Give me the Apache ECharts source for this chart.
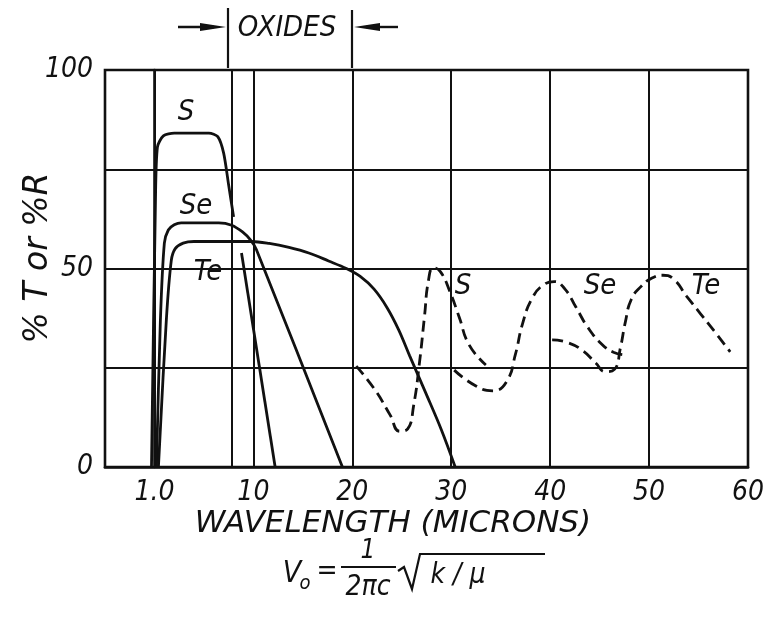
<!DOCTYPE html>
<html><head><meta charset="utf-8">
<script src="https://cdn.jsdelivr.net/npm/echarts@6/dist/echarts.min.js"></script>
<style>html,body{margin:0;padding:0;background:#fff}#c{width:772px;height:620px}</style>
</head><body><div id="c"></div>
<script>
// x positions: 0 on the axis is labelled "1.0"
const xTickValues = [0, 10, 20, 30, 40, 50, 60];
const xTickLabels = ['1.0', '10', '20', '30', '40', '50', '60'];
const xGridLines = [0, 7.8, 10, 20, 30, 40, 50];
const yTickLabels = {0: '0', 50: '50', 100: '100'};

const sSolid = [[-0.3,0],[0.1,67],[0.3,80.6],[0.9,83.4],[2.0,84.1],[5.5,84.1],[6.4,83.2],[7.0,79],[7.5,71],[8.0,63]];
const sSolidTail = [[8.8,53.9],[12.2,0]];
const seSolid = [[0.2,0],[0.6,37],[1.0,56.4],[1.4,59.7],[2.0,61],[2.7,61.5],[6.5,61.5],[7.8,60.9],[8.9,59.2],[9.7,57.2],[10.3,54.8],[19,0]];
const teSolid = [[0.4,0],[1.2,37],[1.7,52],[2.1,55],[2.9,56.4],[4.0,56.8],[9.8,56.8],[11.6,56.3],[13.6,55.3],[15.6,53.9],[17.6,51.9],[19.4,50],[20.8,48],[22.2,44.8],[23.5,40.2],[24.7,34.5],[25.8,28],[27.4,18.8],[29.0,9.4],[30.4,0]];
const sDashed = [[20.4,25.4],[22.3,19.4],[23.8,13.2],[24.8,9.0],[25.6,9.6],[26.2,15.5],[26.8,26.5],[27.3,38],[27.7,47],[28.2,50.2],[28.9,49.2],[29.8,44.6],[30.8,37.8],[31.8,30.8],[33.5,25.7]];
const seDashed = [[30.3,24.4],[32.5,20.4],[34.2,19.2],[35.6,21.5],[36.5,28.5],[37.2,36],[38.2,42.6],[39.4,46],[40.4,46.7],[41.5,44.8],[42.6,40.3],[43.8,35.2],[45.2,31.0],[46.4,28.9],[47.6,28.2]];
const teDashed = [[40.2,32.0],[41.7,31.4],[43.3,29.3],[44.6,26.2],[45.6,24.0],[46.5,24.6],[47.1,30],[47.6,36.5],[48.2,42.2],[49.2,45.5],[50.3,47.6],[51.4,48.3],[52.4,47.5],[53.8,43],[55.2,38.6],[56.6,34.2],[58.2,29.0]];

const FONT = '"DejaVu Sans Condensed", "Liberation Sans Narrow", "DejaVu Sans", sans-serif';
const WIDE = '"DejaVu Sans", "Liberation Sans", sans-serif';
const INK = '#111';

const chart = echarts.init(document.getElementById('c'), null, {renderer: 'canvas'});

function solid(name, data, extra) {
  return Object.assign({
    name, type: 'line', data, showSymbol: false, symbol: 'none', smooth: 0.3,
    lineStyle: {color: INK, width: 2.8}, z: 5, silent: true, animation: false
  }, extra || {});
}
function dashed(name, data) {
  return {
    name, type: 'line', data, showSymbol: false, symbol: 'none', smooth: 0.5,
    lineStyle: {color: INK, width: 2.8, type: [11, 6]}, z: 5, silent: true, animation: false
  };
}

const series = [
  {
    type: 'line', data: [], silent: true, animation: false,
    markLine: {
      silent: true, symbol: 'none', animation: false,
      lineStyle: {color: INK, width: 2, type: 'solid'}, label: {show: false},
      data: xGridLines.map(v => ({xAxis: v}))
    }
  },
  solid('S', sSolid, {smooth: 0.25}),
  solid('S tail', sSolidTail, {smooth: false}),
  solid('Se', seSolid, {smooth: 0.25}),
  solid('Te', teSolid, {smooth: 0.35}),
  dashed('S dashed', sDashed),
  dashed('Se dashed', seDashed),
  dashed('Te dashed', teDashed)
];

function txt(x, y, s, size, extra, fam) {
  return Object.assign({type: 'text', x, y, style: {text: s, fill: INK, font: 'italic ' + (size || 28) + 'px ' + (fam || FONT), align: 'center', verticalAlign: 'middle'}, silent: true}, extra || {});
}
function ln(x1, y1, x2, y2, w) {
  return {type: 'line', shape: {x1, y1, x2, y2}, style: {stroke: INK, lineWidth: w || 2.4}, silent: true};
}

const graphic = [
  // oxides bracket
  ln(228, 8, 228, 68, 2.2), ln(352, 10, 352, 68, 2.2),
  ln(178, 27, 214, 27, 2.4), ln(366, 27, 398, 27, 2.4),
  {type: 'polygon', shape: {points: [[200, 23], [226, 27], [200, 31]]}, style: {fill: INK}, silent: true},
  {type: 'polygon', shape: {points: [[380, 23], [354, 27], [380, 31]]}, style: {fill: INK}, silent: true},
  txt(287, 28, 'OXIDES', 29),
  // curve labels
  txt(186, 112, 'S', 29), txt(196, 206, 'Se', 29), txt(208, 272, 'Te', 29),
  txt(463, 286, 'S', 29), txt(600, 286, 'Se', 29), txt(706, 286, 'Te', 29),
  // axis titles
  txt(38, 258, '% T or %R', 33, {rotation: Math.PI / 2}, WIDE),
  txt(393, 524, 'WAVELENGTH (MICRONS)', 31, null, WIDE),
  // formula
  txt(292, 574, 'V', 30), txt(305, 584, 'o', 20),
  txt(327, 572, '=', 28),
  txt(368, 551, '1', 26), ln(341, 567, 396, 567, 2.2), txt(368, 588, '2πc', 28),
  {type: 'polyline', shape: {points: [[398, 571], [404, 567], [412, 589], [420, 554], [545, 554]]}, style: {stroke: INK, lineWidth: 2.2, fill: null}, silent: true},
  txt(458, 576, 'k / μ', 28)
];

chart.setOption({
  animation: false,
  backgroundColor: '#fff',
  grid: {left: 105, right: 24, top: 70, bottom: 153, show: true, borderColor: INK, borderWidth: 2.6, backgroundColor: 'transparent'},
  xAxis: {
    type: 'value', min: -5, max: 60, interval: 5,
    axisLine: {show: true, lineStyle: {color: INK, width: 2.6}},
    axisTick: {show: false}, splitLine: {show: false},
    axisLabel: {
      color: INK, fontFamily: FONT, fontStyle: 'italic', fontSize: 28, margin: 12,
      showMinLabel: true, showMaxLabel: true,
      formatter: v => { const i = xTickValues.indexOf(v); return i >= 0 ? xTickLabels[i] : ''; }
    }
  },
  yAxis: {
    type: 'value', min: 0, max: 100, interval: 25,
    axisLine: {show: true, lineStyle: {color: INK, width: 2.6}},
    axisTick: {show: false},
    splitLine: {show: true, lineStyle: {color: INK, width: 2}},
    axisLabel: {
      color: INK, fontFamily: FONT, fontStyle: 'italic', fontSize: 28, margin: 12,
      formatter: v => (yTickLabels[v] !== undefined ? yTickLabels[v] : '')
    }
  },
  series,
  graphic
});
</script></body></html>
